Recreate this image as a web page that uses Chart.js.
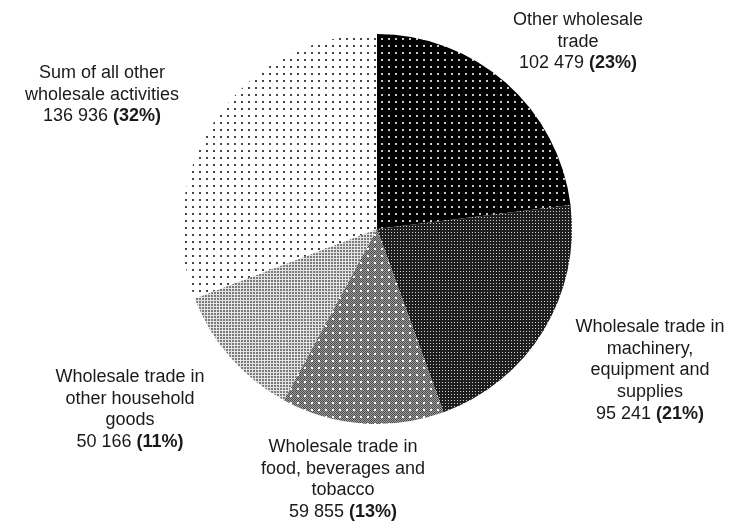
<!DOCTYPE html>
<html>
<head>
<meta charset="utf-8">
<script src="https://cdn.jsdelivr.net/npm/chart.js@4/dist/chart.umd.min.js"></script>
<style>
  html, body { margin: 0; padding: 0; background: #fff; }
  #wrap { width: 737px; height: 524px; position: relative; }
</style>
</head>
<body>
<div id="wrap"><canvas id="c" width="737" height="524"></canvas></div>
<script>
// ---- data ----
const categories = [
  ["Other wholesale", "trade"],
  ["Wholesale trade in", "machinery,", "equipment and", "supplies"],
  ["Wholesale trade in", "food, beverages and", "tobacco"],
  ["Wholesale trade in", "other household", "goods"],
  ["Sum of all other", "wholesale activities"]
];
const values = [102479, 95241, 59855, 50166, 136936];
const percents = [23, 21, 13, 11, 32];

// ---- label layout (centre x, first baseline y) ----
const labelAnchors = [
  [578, 25], [650, 332], [343, 452], [130, 382], [102, 78]
];
const LINE_H = 21.7;
const FONT = '"Liberation Sans", Arial, sans-serif';

// ---- patterns ----
function makePattern(size, draw) {
  const cv = document.createElement('canvas');
  cv.width = size; cv.height = size;
  const g = cv.getContext('2d');
  draw(g, size);
  return g.createPattern(cv, 'repeat');
}
const ctx = document.getElementById('c').getContext('2d');

const patDarkDots = makePattern(7, (g, s) => {
  g.fillStyle = '#000'; g.fillRect(0, 0, s, s);
  g.fillStyle = '#c8c8c8'; g.fillRect(3, 3, 2, 2);
});
const patMachinery = makePattern(3, (g, s) => {
  g.fillStyle = '#1e1e1e'; g.fillRect(0, 0, s, s);
  g.fillStyle = '#d0d0d0'; g.fillRect(1, 1, 1, 1);
});
const patFood = makePattern(14, (g, s) => {
  for (let y = 0; y < s; y++) for (let x = 0; x < s; x++) {
    g.fillStyle = ((x + y) % 2 === 0) ? '#4a4a4a' : '#a0a0a0';
    g.fillRect(x, y, 1, 1);
  }
  g.fillStyle = '#ffffff';
  [[3, 3], [10, 3], [3, 10], [10, 10]].forEach(([x, y]) => {
    g.fillRect(x, y, 2, 2);
  });
});
const patHousehold = makePattern(3, (g, s) => {
  g.fillStyle = '#e4e4e4'; g.fillRect(0, 0, s, s);
  g.fillStyle = '#7a7a7a'; g.fillRect(1, 1, 2, 2);
});
const patLightDots = makePattern(7, (g, s) => {
  g.fillStyle = '#fff'; g.fillRect(0, 0, s, s);
  g.fillStyle = '#444'; g.fillRect(3, 3, 2, 2);
});
const fills = [patDarkDots, patMachinery, patFood, patHousehold, patLightDots];

function fmt(n) {
  return String(n).replace(/\B(?=(\d{3})+(?!\d))/g, ' ');
}

const labelPlugin = {
  id: 'sliceLabels',
  afterDraw(chart) {
    const c = chart.ctx;
    c.save();
    c.fillStyle = '#1a1a1a';
    c.textBaseline = 'alphabetic';
    chart.data.labels.forEach((lines, i) => {
      const [cx, y0] = labelAnchors[i];
      c.font = '18px ' + FONT;
      c.textAlign = 'center';
      lines.forEach((ln, k) => c.fillText(ln, cx, y0 + k * LINE_H));
      const yv = y0 + lines.length * LINE_H;
      const a = fmt(chart.data.datasets[0].data[i]) + ' ';
      const b = '(' + percents[i] + '%)';
      c.font = '18px ' + FONT;
      const wa = c.measureText(a).width;
      c.font = 'bold 18px ' + FONT;
      const wb = c.measureText(b).width;
      const x0 = cx - (wa + wb) / 2;
      c.textAlign = 'left';
      c.font = '18px ' + FONT;
      c.fillText(a, x0, yv);
      c.font = 'bold 18px ' + FONT;
      c.fillText(b, x0 + wa, yv);
    });
    c.restore();
  }
};

new Chart(ctx, {
  type: 'pie',
  data: {
    labels: categories,
    datasets: [{
      data: values,
      backgroundColor: fills,
      borderWidth: 0
    }]
  },
  options: {
    responsive: false,
    animation: false,
    layout: { padding: { top: 34, bottom: 100, left: 182, right: 165 } },
    plugins: {
      legend: { display: false },
      tooltip: { enabled: false }
    }
  },
  plugins: [labelPlugin]
});
</script>
</body>
</html>
